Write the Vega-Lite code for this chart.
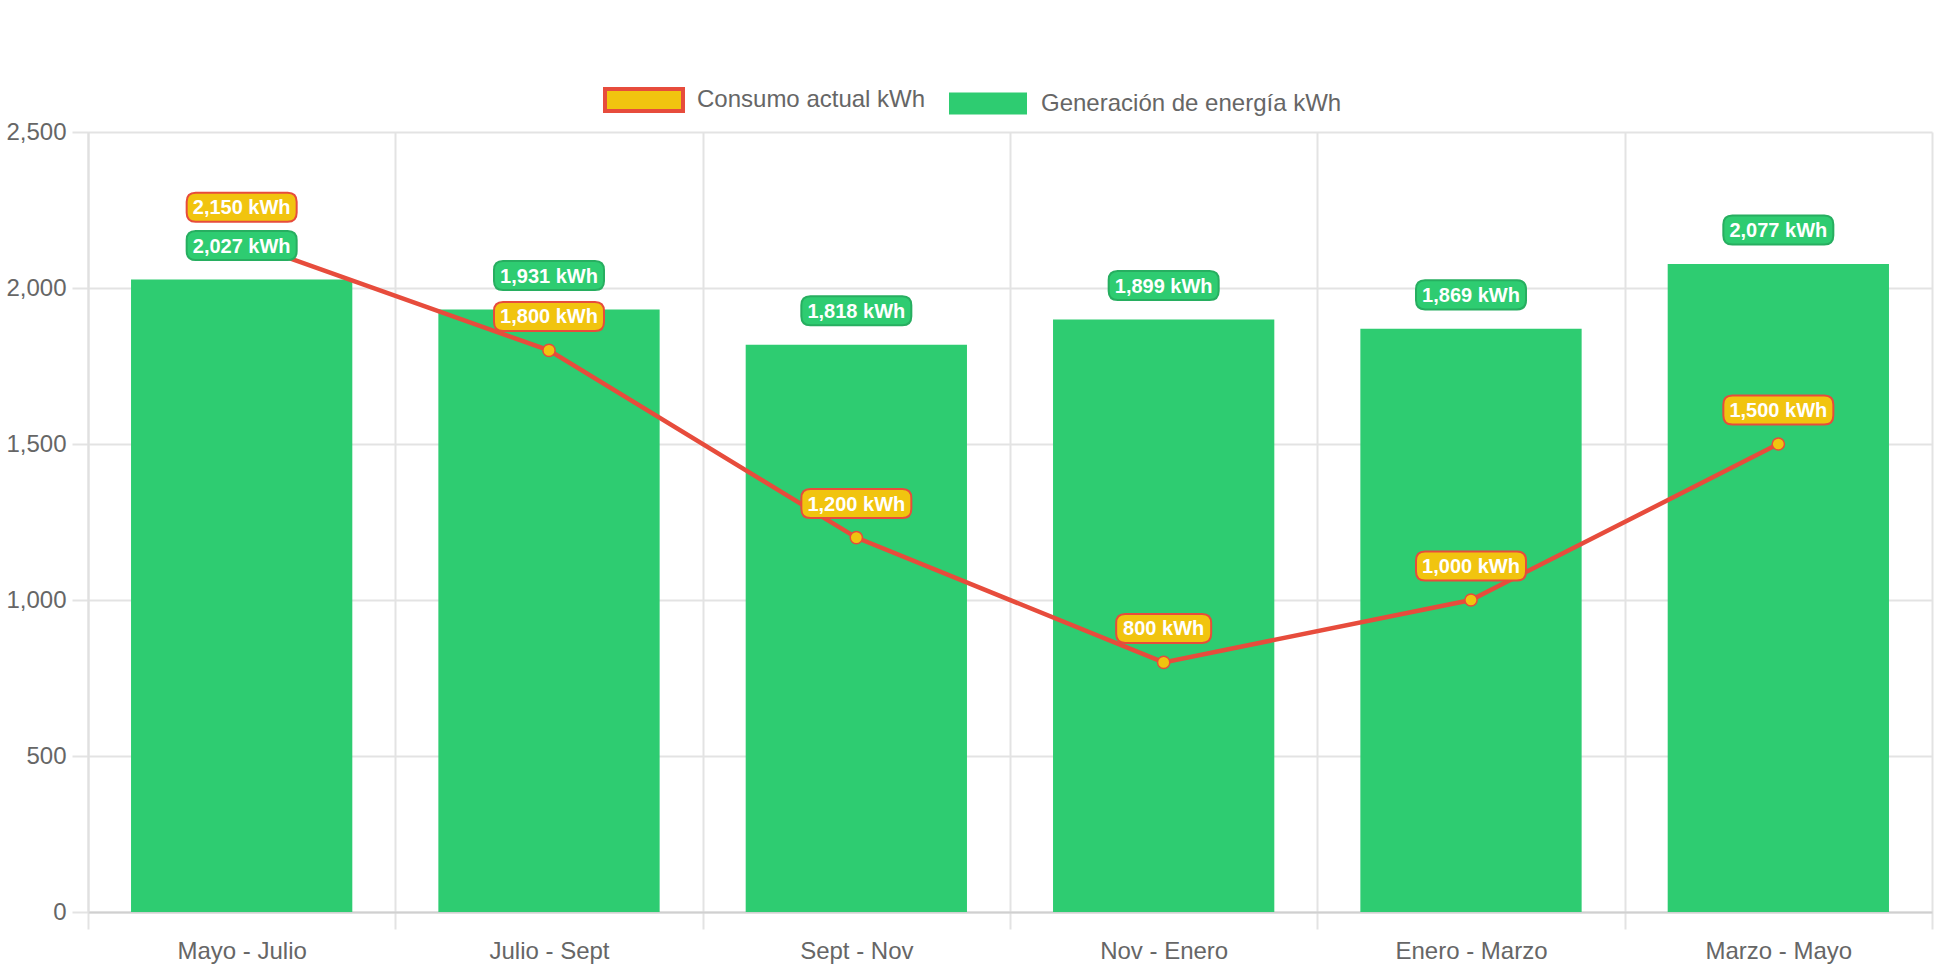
{
  "$schema": "https://vega.github.io/schema/vega-lite/v6.json",
  "width": 1844,
  "height": 780,
  "autosize": "none",
  "padding": {"left": 88, "top": 132, "right": 10, "bottom": 58},
  "background": "white",
  "config": {"view": {"stroke": null}, "font": "Liberation Sans"},
  "data": {
    "values": [
      {"periodo": "Mayo - Julio", "serie": "Generación de energía kWh", "valor": 2027},
      {"periodo": "Julio - Sept", "serie": "Generación de energía kWh", "valor": 1931},
      {"periodo": "Sept - Nov", "serie": "Generación de energía kWh", "valor": 1818},
      {"periodo": "Nov - Enero", "serie": "Generación de energía kWh", "valor": 1899},
      {"periodo": "Enero - Marzo", "serie": "Generación de energía kWh", "valor": 1869},
      {"periodo": "Marzo - Mayo", "serie": "Generación de energía kWh", "valor": 2077},
      {"periodo": "Mayo - Julio", "serie": "Consumo actual kWh", "valor": 2150},
      {"periodo": "Julio - Sept", "serie": "Consumo actual kWh", "valor": 1800},
      {"periodo": "Sept - Nov", "serie": "Consumo actual kWh", "valor": 1200},
      {"periodo": "Nov - Enero", "serie": "Consumo actual kWh", "valor": 800},
      {"periodo": "Enero - Marzo", "serie": "Consumo actual kWh", "valor": 1000},
      {"periodo": "Marzo - Mayo", "serie": "Consumo actual kWh", "valor": 1500}
    ]
  },
  "transform": [
    {"calculate": "format(datum.valor, ',') + ' kWh'", "as": "etiqueta"}
  ],
  "encoding": {
    "x": {
      "field": "periodo",
      "type": "nominal",
      "sort": ["Mayo - Julio", "Julio - Sept", "Sept - Nov", "Nov - Enero", "Enero - Marzo", "Marzo - Mayo"],
      "scale": {"paddingInner": 0, "paddingOuter": 0},
      "axis": {
        "title": null,
        "labelAngle": 0,
        "labelFontSize": 24,
        "labelColor": "#666666",
        "labelPadding": 10,
        "tickBand": "extent",
        "tickSize": 17,
        "tickColor": "#e3e3e3",
        "tickWidth": 2,
        "grid": true,
        "gridColor": "#e3e3e3",
        "gridWidth": 2,
        "domainColor": "#d0d0d0",
        "domainWidth": 2
      }
    },
    "y": {
      "field": "valor",
      "type": "quantitative",
      "scale": {"domain": [0, 2500], "nice": false},
      "axis": {
        "title": null,
        "values": [0, 500, 1000, 1500, 2000, 2500],
        "format": ",d",
        "labelFontSize": 24,
        "labelColor": "#666666",
        "labelPadding": 6,
        "tickSize": 16,
        "tickColor": "#e3e3e3",
        "tickWidth": 2,
        "grid": true,
        "gridColor": "#e3e3e3",
        "gridWidth": 2,
        "domainColor": "#e0e0e0",
        "domainWidth": 2
      }
    }
  },
  "layer": [
    {
      "transform": [{"filter": "datum.serie === 'Generación de energía kWh'"}],
      "mark": {"type": "bar", "width": {"band": 0.72}},
      "encoding": {
        "color": {
          "field": "serie",
          "type": "nominal",
          "scale": {
            "domain": ["Consumo actual kWh", "Generación de energía kWh"],
            "range": ["#f1c40f", "#2ecc71"]
          },
          "legend": {
            "title": null,
            "orient": "none",
            "direction": "horizontal",
            "legendX": 544,
            "legendY": -44,
            "symbolType": "M-1,-0.28H1V0.28H-1Z",
            "symbolSize": 6084,
            "symbolOpacity": 1,
            "labelFontSize": 24,
            "labelColor": "#666666",
            "labelLimit": 0,
            "labelOffset": 41,
            "columnPadding": 23,
            "encode": {
              "symbols": {
                "update": {
                  "stroke": {"signal": "datum.value === 'Consumo actual kWh' ? '#e74c3c' : '#2ecc71'"},
                  "strokeWidth": {"signal": "datum.value === 'Consumo actual kWh' ? 4 : 0"}
                }
              }
            }
          }
        }
      }
    },
    {
      "transform": [{"filter": "datum.serie === 'Consumo actual kWh'"}],
      "mark": {"type": "line", "color": "#e74c3c", "strokeWidth": 4.5},
      "encoding": {}
    },
    {
      "transform": [{"filter": "datum.serie === 'Consumo actual kWh'"}],
      "mark": {"type": "point", "shape": "circle", "filled": true, "fill": "#f1c40f", "stroke": "#e74c3c", "strokeWidth": 1.5, "size": 150, "opacity": 1},
      "encoding": {}
    },
    {
      "transform": [{"filter": "datum.serie === 'Consumo actual kWh' && datum.valor >= 1000"}],
      "mark": {"type": "point", "shape": "M-0.836,-0.264H0.836Q1,-0.264 1,-0.1V0.1Q1,0.264 0.836,0.264H-0.836Q-1,0.264 -1,0.1V-0.1Q-1,-0.264 -0.836,-0.264Z", "filled": true, "fill": "#f1c40f", "stroke": "#e74c3c", "strokeWidth": 2, "size": 12100, "opacity": 1, "yOffset": -34},
      "encoding": {}
    },
    {
      "transform": [{"filter": "datum.serie === 'Consumo actual kWh' && datum.valor < 1000"}],
      "mark": {"type": "point", "shape": "M-0.81,-0.305H0.81Q1,-0.305 1,-0.115V0.115Q1,0.305 0.81,0.305H-0.81Q-1,0.305 -1,0.115V-0.115Q-1,-0.305 -0.81,-0.305Z", "filled": true, "fill": "#f1c40f", "stroke": "#e74c3c", "strokeWidth": 2, "size": 9025, "opacity": 1, "yOffset": -34},
      "encoding": {}
    },
    {
      "transform": [{"filter": "datum.serie === 'Consumo actual kWh'"}],
      "mark": {"type": "text", "color": "white", "fontSize": 20, "fontWeight": "bold", "align": "center", "baseline": "middle", "yOffset": -33},
      "encoding": {"text": {"field": "etiqueta"}}
    },
    {
      "transform": [{"filter": "datum.serie === 'Generación de energía kWh'"}],
      "mark": {"type": "point", "shape": "M-0.836,-0.264H0.836Q1,-0.264 1,-0.1V0.1Q1,0.264 0.836,0.264H-0.836Q-1,0.264 -1,0.1V-0.1Q-1,-0.264 -0.836,-0.264Z", "filled": true, "fill": "#2ecc71", "stroke": "#27ae60", "strokeWidth": 2, "size": 12100, "opacity": 1, "yOffset": -34},
      "encoding": {}
    },
    {
      "transform": [{"filter": "datum.serie === 'Generación de energía kWh'"}],
      "mark": {"type": "text", "color": "white", "fontSize": 20, "fontWeight": "bold", "align": "center", "baseline": "middle", "yOffset": -33},
      "encoding": {"text": {"field": "etiqueta"}}
    }
  ]
}
